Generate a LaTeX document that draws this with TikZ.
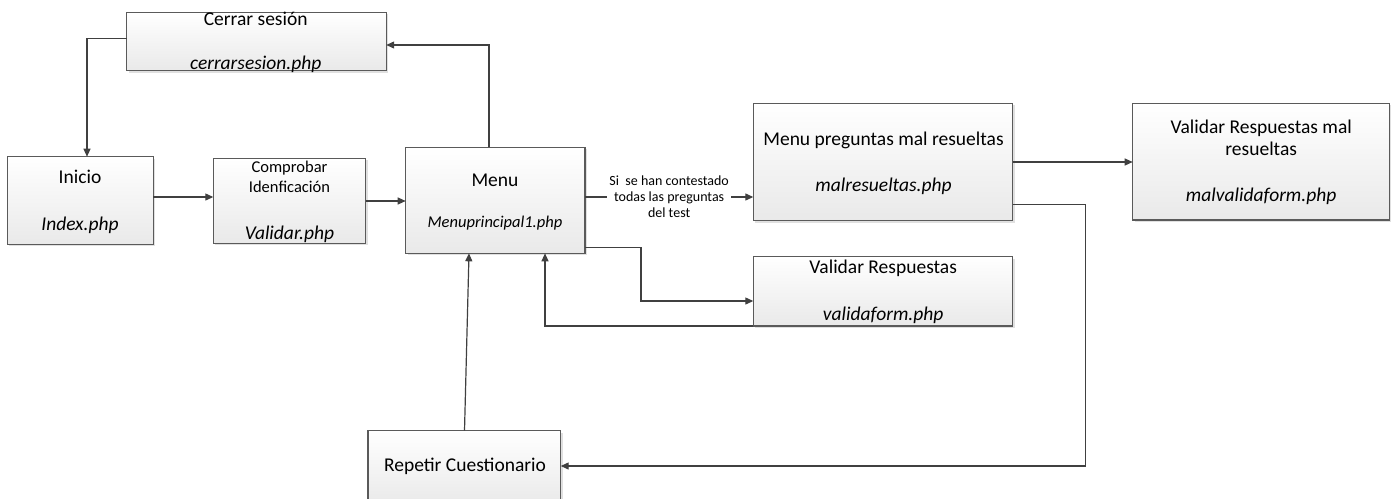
\documentclass[tikz,border=0pt]{standalone}
\usepackage{fontspec}
\setmainfont{Carlito}
\usetikzlibrary{arrows.meta,shadows}

\definecolor{boxline}{HTML}{5A5A5A}
\definecolor{wire}{HTML}{404040}
\definecolor{boxfoot}{HTML}{E9E9E9}

\tikzset{
  x=1pt, y=-1pt,
  procbox/.style={draw=boxline, line width=1.1pt, anchor=north west,
    inner sep=0pt, outer sep=0pt, top color=white, bottom color=boxfoot,
    drop shadow={shadow xshift=2pt, shadow yshift=-2pt, fill=black, opacity=0.12}},
  txt/.style={anchor=base, inner sep=0pt, font=\fontsize{19.5}{23}\selectfont},
  txti/.style={txt, font=\fontsize{19.5}{23}\selectfont\itshape},
  small/.style={anchor=base, inner sep=0pt, font=\fontsize{16.5}{20}\selectfont},
  smalli/.style={small, font=\fontsize{16.5}{20}\selectfont\itshape},
  arr/.style={draw=wire, line width=1.2pt, -{Triangle[length=8pt,width=7pt]}},
  lbl/.style={fill=white, inner xsep=2.5pt, inner ysep=1pt, align=center,
    font=\fontsize{14}{16}\selectfont}
}

\begin{document}
\begin{tikzpicture}
\useasboundingbox (0,0) rectangle (1399,498);

% process boxes
\node[procbox, minimum width=259.5pt, minimum height=58.5pt] (cerrar)  at (126.7,12.3) {};
\node[procbox, minimum width=146pt,   minimum height=87.5pt] (inicio)  at (7.3,156.7) {};
\node[procbox, minimum width=152.4pt, minimum height=85pt]   (compro)  at (213.3,158.3) {};
\node[procbox, minimum width=179.3pt, minimum height=106pt]  (menu)    at (405.7,147.3) {};
\node[procbox, minimum width=259.4pt, minimum height=117.4pt](malres)  at (753.3,103.3) {};
\node[procbox, minimum width=256.6pt, minimum height=116.7pt](malval)  at (1132.7,103.3) {};
\node[procbox, minimum width=259.4pt, minimum height=69.3pt] (valres)  at (753.3,256.7) {};
\node[procbox, minimum width=192.7pt, minimum height=75pt]   (repetir) at (368,430.7) {};

% box texts
\node[txt]    (cerrar-a) at (255.7,25.3) {Cerrar sesión};
\node[txti]   (cerrar-b) at (255.7,69.3) {cerrarsesion.php};
\node[txt]    (inicio-a) at (80,183.3) {Inicio};
\node[txti]   (inicio-b) at (80,230) {Index.php};
\node[small]  (compro-a) at (289.5,172.3) {Comprobar};
\node[small]  (compro-b) at (289.5,192.3) {Idenficación};
\node[txti]   (compro-c) at (289.5,239) {Validar.php};
\node[txt]    (menu-a) at (495,186) {Menu};
\node[smalli] (menu-b) at (495,227.3) {Menuprincipal1.php};
\node[txt]    (malres-a) at (883.5,145.7) {Menu preguntas mal resueltas};
\node[txti]   (malres-b) at (883.5,191.5) {malresueltas.php};
\node[txt]    (malval-a) at (1261.2,133.3) {Validar Respuestas mal};
\node[txt]    (malval-b) at (1261.2,155) {resueltas};
\node[txti]   (malval-c) at (1261.2,201.5) {malvalidaform.php};
\node[txt]    (valres-a) at (883.2,273.3) {Validar Respuestas};
\node[txti]   (valres-b) at (883.2,320) {validaform.php};
\node[txt]    (repetir-a) at (465,471.7) {Repetir Cuestionario};

% bend points
\coordinate (j1) at (641,301);
\coordinate (j2) at (1085.5,466);

% connectors
\draw[arr] (inicio.east |- 0,197) -- (compro.west |- 0,197);
\draw[arr] (compro.east |- 0,201) -- (menu.west |- 0,201);
\draw[arr] (menu.north -| 489,0) |- (cerrar.east |- 0,45);
\draw[arr] (cerrar.west |- 0,38.3) -| (inicio.north -| 87,0);
\draw[arr] (menu.east |- 0,197) -- node[lbl] (cond) {Si\ \ se han contestado\\todas las preguntas\\del test} (malres.west |- 0,197);
\draw[arr] (menu.east |- 0,247.5) -| (j1) -- (valres.west |- j1);
\draw[arr] (valres.south west) -| (menu.south -| 545,0);
\draw[arr] (malres.east |- 0,162) -- (malval.west |- 0,162);
\draw[arr] (malres.east |- 0,204.5) -| (j2) -- (repetir.east |- j2);
\draw[arr] (repetir.north -| 464.5,0) -- (menu.south -| 469,0);
\end{tikzpicture}
\end{document}
